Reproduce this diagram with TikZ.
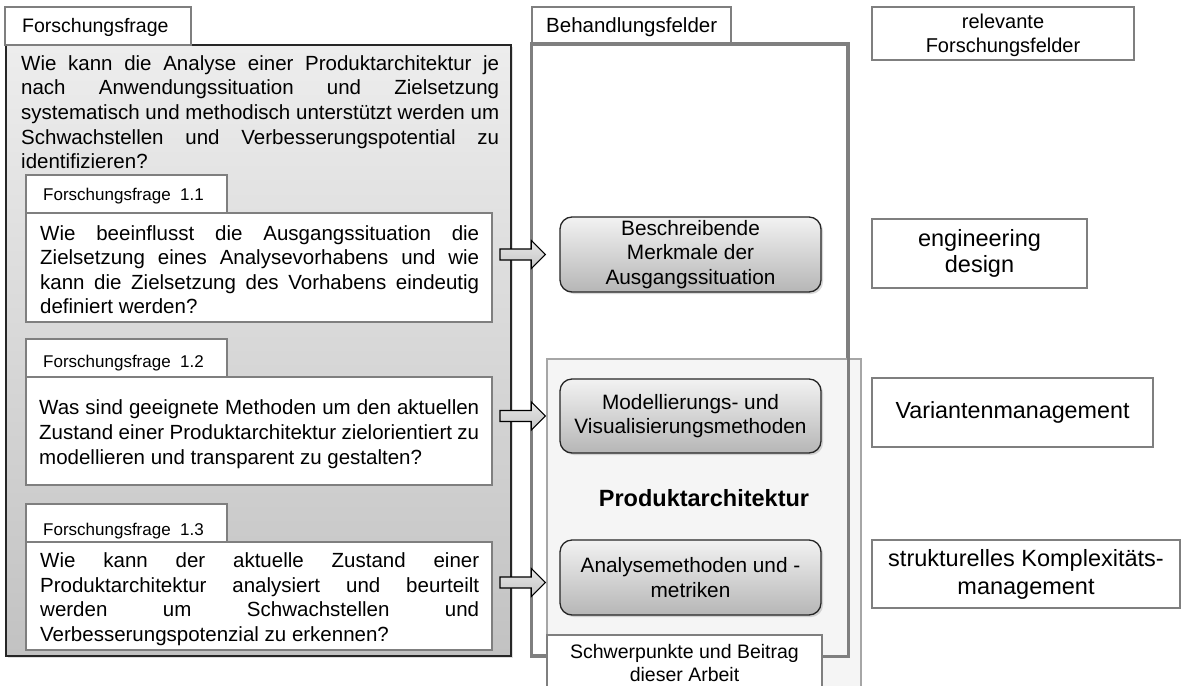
\documentclass[tikz,border=0pt]{standalone}
\usepackage{fontspec}
\setmainfont{Liberation Sans}
\usetikzlibrary{calc,shadows}
\definecolor{gborder}{HTML}{7F7F7F}
\definecolor{dborder}{HTML}{262626}
\definecolor{bigtop}{HTML}{EDEDED}
\definecolor{bigbot}{HTML}{C2C2C2}
\definecolor{rtop}{HTML}{F2F2F2}
\definecolor{rbot}{HTML}{B6B6B6}
\definecolor{contfill}{HTML}{F5F5F5}
\definecolor{contline}{HTML}{A6A6A6}
\definecolor{atop}{HTML}{E6E6E6}
\definecolor{abot}{HTML}{C6C6C6}
\newcommand\fs[2]{\fontsize{#1}{#2}\selectfont}
\newcommand\jl[2]{\makebox[#1pt][s]{#2}}
\newcommand\barrow[2]{\draw[blockarr] let \p1=(#1), \p2=(#2) in
  (\x1,\y1-5.5pt) -- (\x2-14pt,\y1-5.5pt) -- (\x2-14pt,\y1-14pt) -- (\x2,\y1)
  -- (\x2-14pt,\y1+14pt) -- (\x2-14pt,\y1+5.5pt) -- (\x1,\y1+5.5pt) -- cycle;}
\begin{document}
\begin{tikzpicture}[x=1pt,y=-1pt,
  wbox/.style={draw=gborder,line width=2.5pt,fill=white,inner sep=0pt},
  bigbox/.style={draw=dborder,line width=1.8pt,top color=bigtop,bottom color=bigbot,inner sep=0pt,
    drop shadow={shadow xshift=2pt,shadow yshift=-2pt,opacity=0.25}},
  rbox/.style={draw=dborder,line width=1.3pt,rounded corners=12pt,top color=rtop,bottom color=rbot,
    inner sep=0pt,align=center,font=\fs{20.8}{24.5},
    drop shadow={shadow xshift=2pt,shadow yshift=-2pt,opacity=0.3}},
  field/.style={draw=gborder,line width=2.5pt,fill=white,inner sep=0pt,align=center},
  contbox/.style={draw=contline,line width=2pt,fill=contfill,inner sep=0pt},
  gline/.style={draw=gborder,line width=2.5pt},
  txt/.style={inner sep=0pt,anchor=base west},
  txtnw/.style={inner sep=0pt,anchor=north west,align=left},
  blockarr/.style={draw=black,line width=1.2pt,top color=atop,bottom color=abot}
]
\useasboundingbox (0,0) rectangle (1182,685);
\clip (0,0) rectangle (1182,685);

% ---------- left column ----------
\node[bigbox,minimum width=505,minimum height=611] (ff) at (258.5,350.5) {};
\node[wbox,minimum width=186,minimum height=38] (tab0) at (98,26) {};
\node[txt,font=\fs{19.5}{23}] (tab0t) at (22,33) {Forschungsfrage};
\node[txtnw,font=\fs{20.5}{24.6}] (fftext) at (21,55.3) {%
\jl{478}{Wie kann die Analyse einer Produktarchitektur je}\\
\jl{478}{nach Anwendungssituation und Zielsetzung}\\
\jl{478}{systematisch und methodisch unterstützt werden um}\\
\jl{478}{Schwachstellen und Verbesserungspotential zu}\\
identifizieren?};

\node[wbox,minimum width=201,minimum height=38] (t11) at (126.5,194) {};
\node[wbox,minimum width=466,minimum height=109] (q11) at (259,267.5) {};
\node[txt,font=\fs{17}{20}] (t11t) at (43,200) {Forschungsfrage\ \ 1.1};
\node[txtnw,font=\fs{20.5}{24.5}] (q11t) at (40,225.3) {%
\jl{439}{Wie beeinflusst die Ausgangssituation die}\\
\jl{439}{Zielsetzung eines Analysevorhabens und wie}\\
\jl{439}{kann die Zielsetzung des Vorhabens eindeutig}\\
definiert werden?};

\node[wbox,minimum width=201,minimum height=38] (t12) at (126.5,358) {};
\node[wbox,minimum width=466,minimum height=108] (q12) at (259,431) {};
\node[txt,font=\fs{17}{20}] (t12t) at (43,367) {Forschungsfrage\ \ 1.2};
\node[txtnw,font=\fs{20.5}{25}] (q12t) at (39,399.3) {%
\jl{440}{Was sind geeignete Methoden um den aktuellen}\\
\jl{440}{Zustand einer Produktarchitektur zielorientiert zu}\\
modellieren und transparent zu gestalten?};

\node[wbox,minimum width=201,minimum height=38] (t13) at (126.5,523) {};
\node[wbox,minimum width=466,minimum height=108] (q13) at (259,596) {};
\node[txt,font=\fs{17}{20}] (t13t) at (43,535) {Forschungsfrage\ \ 1.3};
\node[txtnw,font=\fs{20.5}{24.7}] (q13t) at (40,552.3) {%
\jl{439}{Wie kann der aktuelle Zustand einer}\\
\jl{439}{Produktarchitektur analysiert und beurteilt}\\
\jl{439}{werden um Schwachstellen und}\\
Verbesserungspotenzial zu erkennen?};

% ---------- middle column ----------
\node[field,minimum width=315,minimum height=610] (bf) at (689.5,350) {};
\node[field,minimum width=199,minimum height=38] (tabB) at (631.5,26) {};
\node[txt,font=\fs{20.5}{24}] (tabBt) at (546,33) {Behandlungsfelder};
\node[contbox,minimum width=314,minimum height=341] (cont) at (704,529.5) {};
\draw[gline] (bf.north west) rectangle (bf.south east);
\node[rbox,minimum width=261,minimum height=75] (b1) at (690.5,254.5) {Beschreibende\\Merkmale der\\Ausgangssituation};
\node[rbox,minimum width=261,minimum height=74] (b2) at (690.5,416) {Modellierungs- und\\Visualisierungsmethoden};
\node[rbox,minimum width=261,minimum height=75] (b3) at (690.5,577.5) {Analysemethoden und -\\metriken};
\node[inner sep=0pt,font=\bfseries\fs{23.5}{28}] (prod) at (704,498) {Produktarchitektur};
\node[field,minimum width=275,minimum height=57,font=\fs{19.5}{23}] (sw) at (684.5,663.5) {Schwerpunkte und Beitrag\\dieser Arbeit};

% ---------- right column ----------
\node[field,minimum width=262,minimum height=53] (rel) at (1003,33.5) {};
\node[inner sep=0pt,align=center,font=\fs{20}{24}] (relt) at (1003,35.5) {relevante\\Forschungsfelder};
\node[field,minimum width=215,minimum height=69,font=\fs{23.5}{26}] (eng) at (979.5,253.5) {engineering\\design};
\node[field,minimum width=281,minimum height=69,font=\fs{23.3}{28}] (var) at (1012.5,412.5) {Variantenmanagement};
\node[field,minimum width=308,minimum height=68,font=\fs{23.5}{28}] (str) at (1026,574) {strukturelles Komplexitäts-\\management};

% ---------- block arrows ----------
\coordinate (a1s) at ($(ff.east |- b1.west)+(-12,0)$);
\coordinate (a1t) at ($(b1.west)+(-14,0)$);
\coordinate (a2s) at ($(ff.east |- b2.west)+(-12,0)$);
\coordinate (a2t) at ($(b2.west)+(-14,0)$);
\coordinate (a3s) at ($(ff.east |- b3.west)+(-12,5)$);
\coordinate (a3t) at ($(b3.west)+(-14,5)$);
\barrow{a1s}{a1t}
\barrow{a2s}{a2t}
\barrow{a3s}{a3t}
\end{tikzpicture}
\end{document}
